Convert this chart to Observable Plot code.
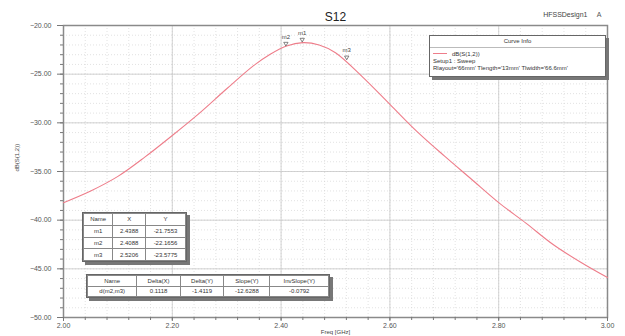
<!DOCTYPE html>
<html>
<head>
<meta charset="utf-8">
<script src="https://cdn.jsdelivr.net/npm/d3@7"></script>
<script src="https://cdn.jsdelivr.net/npm/@observablehq/plot@0.6"></script>
<style>
  html, body { margin: 0; padding: 0; background: #fff; }
  #wrap { position: relative; width: 625px; height: 336px; font-family: "Liberation Sans", Arial, sans-serif; overflow: hidden; }
  #wrap svg { position: absolute; left: 0; top: 0; }
  .box { position: absolute; background: #fff; border: 1px solid #666; box-shadow: 3px 3px 0 #777; font-size: 6px; color: #333; box-sizing: border-box; }
  table.mk { border-collapse: collapse; width: 100%; height: 100%; font-size: 6px; color: #333; }
  table.mk td { border: 1px solid #888; text-align: center; padding: 0 2px; white-space: nowrap; }
  .legrow { display: flex; align-items: center; height: 7px; padding-left: 3px; white-space: nowrap; }
</style>
</head>
<body>
<div id="wrap"></div>
<script>
// ---- data ----
const freq = [2.00, 2.05, 2.10, 2.15, 2.20, 2.25, 2.30, 2.35, 2.38, 2.41, 2.44, 2.47, 2.50, 2.55, 2.60, 2.65, 2.70, 2.75, 2.80, 2.85, 2.90, 2.95, 3.00];
const s12dB = [-38.2, -37.0, -35.5, -33.5, -31.3, -29.0, -26.5, -24.1, -22.95, -22.1, -21.76, -22.0, -22.8, -25.3, -28.1, -30.9, -33.4, -35.8, -38.2, -40.3, -42.5, -44.3, -45.9];
const markerNames = ["m1", "m2", "m3"];
const markerX = [2.4388, 2.4088, 2.5206];
const markerY = [-21.7553, -22.1656, -23.5775];
const markerXText = ["2.4388", "2.4088", "2.5206"];
const markerYText = ["-21.7553", "-22.1656", "-23.5775"];
const deltaHeader = ["Name", "Delta(X)", "Delta(Y)", "Slope(Y)", "InvSlope(Y)"];
const deltaRow = ["d(m2,m3)", "0.1118", "-1.4119", "-12.6288", "-0.0792"];
const xTicks = [2.0, 2.2, 2.4, 2.6, 2.8, 3.0];
const yTicks = [-50, -45, -40, -35, -30, -25, -20];
const legendLines = ["dB(S(1,2))", "Setup1 : Sweep", "Rlayout='66mm' Tlength='13mm' Tlwidth='66.6mm'"];

const curve = freq.map((f, i) => ({f, v: s12dB[i]}));
const markers = markerNames.map((n, i) => ({n, x: markerX[i], y: markerY[i]}));
const xMinor = d3.range(0, 26).map(i => 2 + i * 0.04);
const yMinor = d3.range(0, 31).map(i => -50 + i);

const fmt = d3.format(".2f");
const chart = Plot.plot({
  width: 625,
  height: 336,
  marginLeft: 63,
  marginRight: 18,
  marginTop: 25,
  marginBottom: 19,
  style: {fontFamily: "Liberation Sans, Arial, sans-serif", fontSize: "7px", color: "#555", background: "#fff"},
  x: {domain: [2, 3]},
  y: {domain: [-50, -20]},
  marks: [
    Plot.gridX(xMinor, {stroke: "#cfcfcf", strokeOpacity: 1, strokeDasharray: "1,2", strokeWidth: 0.6}),
    Plot.gridY(yMinor, {stroke: "#cfcfcf", strokeOpacity: 1, strokeDasharray: "1,2", strokeWidth: 0.6}),
    Plot.gridX(xTicks, {stroke: "#c8c8c8", strokeOpacity: 1, strokeWidth: 0.8}),
    Plot.gridY(yTicks, {stroke: "#c8c8c8", strokeOpacity: 1, strokeWidth: 0.8}),
    Plot.frame({stroke: "#8a8a8a", strokeWidth: 1.5}),
    Plot.axisX(xMinor, {tickSize: 3, text: null, stroke: "#777"}),
    Plot.axisX(xTicks, {tickSize: 4, tickPadding: 2, tickFormat: fmt, fill: "#555", stroke: "#777", label: null}),
    Plot.axisY(yMinor, {tickSize: 3, text: null, stroke: "#777"}),
    Plot.axisY(yTicks, {tickSize: 6, tickPadding: 6, tickFormat: fmt, fill: "#555", stroke: "#777", label: null}),
    Plot.line(curve, {x: "f", y: "v", stroke: "#ee7d8a", strokeWidth: 1.1, curve: "catmull-rom"}),
    Plot.dot(markers, {x: "x", y: "y", symbol: "triangle", r: 1.6, stroke: "#555", strokeWidth: 0.7, rotate: 180, dy: -3}),
    Plot.text(markers, {x: "x", y: "y", text: "n", dy: -10, fontSize: 6, fill: "#444"}),
    Plot.text(["S12"], {frameAnchor: "top", dy: -13, fontSize: 12, fill: "#222"}),
    Plot.text(["HFSSDesign1"], {frameAnchor: "top-right", dx: -20, dy: -13, fontSize: 7, fill: "#444"}),
    Plot.text(["A"], {frameAnchor: "top-right", dx: -6, dy: -13, fontSize: 7, fill: "#555"}),
    Plot.text(["Freq [GHz]"], {frameAnchor: "bottom", dy: 16, fontSize: 6, fill: "#444"}),
    Plot.text(["dB(S(1,2))"], {frameAnchor: "left", dx: -46, rotate: -90, fontSize: 6, fill: "#444"})
  ]
});
const wrap = document.getElementById("wrap");
wrap.appendChild(chart);

// Curve info legend
const leg = document.createElement("div");
leg.className = "box";
Object.assign(leg.style, {left: "429px", top: "35px", width: "177px", height: "42px"});
leg.innerHTML = `<div style="text-align:center;height:11px;line-height:11px;border-bottom:1px solid #bbb;font-size:6px">Curve Info</div>
<div class="legrow" style="margin-top:2px"><span style="display:inline-block;width:14px;height:1px;background:#ee7d8a;margin-right:5px"></span>${legendLines[0]}</div>
<div class="legrow">${legendLines[1]}</div>
<div class="legrow">${legendLines[2]}</div>`;
wrap.appendChild(leg);

// marker table
const t1 = document.createElement("div");
t1.className = "box";
Object.assign(t1.style, {left: "82px", top: "212px", width: "105px", height: "50px"});
let h1 = `<table class="mk"><tr><td>Name</td><td>X</td><td>Y</td></tr>`;
markerNames.forEach((n, i) => { h1 += `<tr><td>${n}</td><td>${markerXText[i]}</td><td>${markerYText[i]}</td></tr>`; });
h1 += `</table>`;
t1.innerHTML = h1;
wrap.appendChild(t1);

// delta table
const t2 = document.createElement("div");
t2.className = "box";
Object.assign(t2.style, {left: "86px", top: "274px", width: "244px", height: "24px"});
t2.innerHTML = `<table class="mk"><tr>${deltaHeader.map(h => `<td>${h}</td>`).join("")}</tr><tr>${deltaRow.map(h => `<td>${h}</td>`).join("")}</tr></table>`;
wrap.appendChild(t2);
</script>
</body>
</html>
